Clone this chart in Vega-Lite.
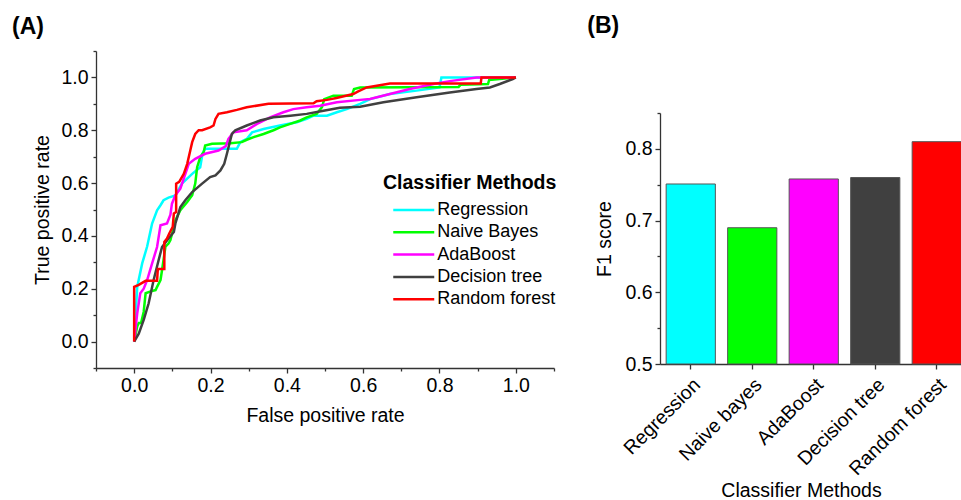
{
  "$schema": "https://vega.github.io/schema/vega-lite/v6.json",
  "padding": {"left": 12, "top": 15, "right": 0, "bottom": 0},
  "spacing": 30,
  "config": {
    "font": "Liberation Sans",
    "view": {"stroke": null},
    "axis": {"labelFontSize": 19.5, "titleFontSize": 19.5, "titleFontWeight": "normal", "labelColor": "#000", "titleColor": "#000", "domainColor": "#333", "tickColor": "#333", "domainWidth": 1.3, "tickWidth": 1.3, "grid": false, "labelPadding": 3},
    "title": {"fontSize": 23, "fontWeight": "bold", "color": "#000", "anchor": "start", "frame": "group"}
  },
  "resolve": {"scale": {"color": "independent"}, "legend": {"color": "independent"}},
  "hconcat": [
    {
      "width": 458,
      "height": 317,
      "title": {"text": "(A)", "dx": -84, "offset": 2},
      "data": {"values": [
        {"m": "Regression", "fpr": 0, "tpr": 0},
        {"m": "Regression", "fpr": 0.004, "tpr": 0.1},
        {"m": "Regression", "fpr": 0.008, "tpr": 0.207},
        {"m": "Regression", "fpr": 0.021, "tpr": 0.296},
        {"m": "Regression", "fpr": 0.034, "tpr": 0.36},
        {"m": "Regression", "fpr": 0.043, "tpr": 0.42},
        {"m": "Regression", "fpr": 0.047, "tpr": 0.447},
        {"m": "Regression", "fpr": 0.06, "tpr": 0.497},
        {"m": "Regression", "fpr": 0.069, "tpr": 0.516},
        {"m": "Regression", "fpr": 0.077, "tpr": 0.535},
        {"m": "Regression", "fpr": 0.09, "tpr": 0.545},
        {"m": "Regression", "fpr": 0.108, "tpr": 0.553},
        {"m": "Regression", "fpr": 0.125, "tpr": 0.598},
        {"m": "Regression", "fpr": 0.152, "tpr": 0.635},
        {"m": "Regression", "fpr": 0.173, "tpr": 0.66},
        {"m": "Regression", "fpr": 0.179, "tpr": 0.711},
        {"m": "Regression", "fpr": 0.186, "tpr": 0.73},
        {"m": "Regression", "fpr": 0.269, "tpr": 0.73},
        {"m": "Regression", "fpr": 0.278, "tpr": 0.755},
        {"m": "Regression", "fpr": 0.295, "tpr": 0.767},
        {"m": "Regression", "fpr": 0.309, "tpr": 0.792},
        {"m": "Regression", "fpr": 0.339, "tpr": 0.805},
        {"m": "Regression", "fpr": 0.382, "tpr": 0.818},
        {"m": "Regression", "fpr": 0.426, "tpr": 0.83},
        {"m": "Regression", "fpr": 0.452, "tpr": 0.843},
        {"m": "Regression", "fpr": 0.47, "tpr": 0.855},
        {"m": "Regression", "fpr": 0.505, "tpr": 0.855},
        {"m": "Regression", "fpr": 0.531, "tpr": 0.868},
        {"m": "Regression", "fpr": 0.557, "tpr": 0.88},
        {"m": "Regression", "fpr": 0.592, "tpr": 0.9},
        {"m": "Regression", "fpr": 0.618, "tpr": 0.918},
        {"m": "Regression", "fpr": 0.67, "tpr": 0.937},
        {"m": "Regression", "fpr": 0.74, "tpr": 0.95},
        {"m": "Regression", "fpr": 0.8, "tpr": 0.962},
        {"m": "Regression", "fpr": 0.805, "tpr": 1.0},
        {"m": "Regression", "fpr": 1.0, "tpr": 1.0},
        {"m": "Naive Bayes", "fpr": 0, "tpr": 0},
        {"m": "Naive Bayes", "fpr": 0.008, "tpr": 0.057},
        {"m": "Naive Bayes", "fpr": 0.012, "tpr": 0.07},
        {"m": "Naive Bayes", "fpr": 0.018, "tpr": 0.07},
        {"m": "Naive Bayes", "fpr": 0.025, "tpr": 0.113},
        {"m": "Naive Bayes", "fpr": 0.03, "tpr": 0.183},
        {"m": "Naive Bayes", "fpr": 0.043, "tpr": 0.19},
        {"m": "Naive Bayes", "fpr": 0.056, "tpr": 0.195},
        {"m": "Naive Bayes", "fpr": 0.06, "tpr": 0.207},
        {"m": "Naive Bayes", "fpr": 0.069, "tpr": 0.233},
        {"m": "Naive Bayes", "fpr": 0.073, "tpr": 0.27},
        {"m": "Naive Bayes", "fpr": 0.082, "tpr": 0.36},
        {"m": "Naive Bayes", "fpr": 0.09, "tpr": 0.371},
        {"m": "Naive Bayes", "fpr": 0.095, "tpr": 0.384},
        {"m": "Naive Bayes", "fpr": 0.108, "tpr": 0.459},
        {"m": "Naive Bayes", "fpr": 0.121, "tpr": 0.497},
        {"m": "Naive Bayes", "fpr": 0.139, "tpr": 0.528},
        {"m": "Naive Bayes", "fpr": 0.152, "tpr": 0.554},
        {"m": "Naive Bayes", "fpr": 0.16, "tpr": 0.598},
        {"m": "Naive Bayes", "fpr": 0.165, "tpr": 0.66},
        {"m": "Naive Bayes", "fpr": 0.173, "tpr": 0.698},
        {"m": "Naive Bayes", "fpr": 0.182, "tpr": 0.717},
        {"m": "Naive Bayes", "fpr": 0.186, "tpr": 0.742},
        {"m": "Naive Bayes", "fpr": 0.204, "tpr": 0.749},
        {"m": "Naive Bayes", "fpr": 0.252, "tpr": 0.751},
        {"m": "Naive Bayes", "fpr": 0.282, "tpr": 0.755},
        {"m": "Naive Bayes", "fpr": 0.295, "tpr": 0.764},
        {"m": "Naive Bayes", "fpr": 0.313, "tpr": 0.774},
        {"m": "Naive Bayes", "fpr": 0.339, "tpr": 0.786},
        {"m": "Naive Bayes", "fpr": 0.365, "tpr": 0.8},
        {"m": "Naive Bayes", "fpr": 0.382, "tpr": 0.811},
        {"m": "Naive Bayes", "fpr": 0.409, "tpr": 0.824},
        {"m": "Naive Bayes", "fpr": 0.435, "tpr": 0.837},
        {"m": "Naive Bayes", "fpr": 0.452, "tpr": 0.849},
        {"m": "Naive Bayes", "fpr": 0.478, "tpr": 0.862},
        {"m": "Naive Bayes", "fpr": 0.492, "tpr": 0.887},
        {"m": "Naive Bayes", "fpr": 0.498, "tpr": 0.918},
        {"m": "Naive Bayes", "fpr": 0.522, "tpr": 0.931},
        {"m": "Naive Bayes", "fpr": 0.57, "tpr": 0.931},
        {"m": "Naive Bayes", "fpr": 0.576, "tpr": 0.956},
        {"m": "Naive Bayes", "fpr": 0.592, "tpr": 0.962},
        {"m": "Naive Bayes", "fpr": 0.85, "tpr": 0.964},
        {"m": "Naive Bayes", "fpr": 0.855, "tpr": 0.972},
        {"m": "Naive Bayes", "fpr": 0.927, "tpr": 0.975},
        {"m": "Naive Bayes", "fpr": 0.93, "tpr": 0.99},
        {"m": "Naive Bayes", "fpr": 1.0, "tpr": 1.0},
        {"m": "AdaBoost", "fpr": 0, "tpr": 0},
        {"m": "AdaBoost", "fpr": 0.008, "tpr": 0.107},
        {"m": "AdaBoost", "fpr": 0.016, "tpr": 0.183},
        {"m": "AdaBoost", "fpr": 0.025, "tpr": 0.2},
        {"m": "AdaBoost", "fpr": 0.034, "tpr": 0.233},
        {"m": "AdaBoost", "fpr": 0.047, "tpr": 0.296},
        {"m": "AdaBoost", "fpr": 0.06, "tpr": 0.358},
        {"m": "AdaBoost", "fpr": 0.069, "tpr": 0.44},
        {"m": "AdaBoost", "fpr": 0.086, "tpr": 0.447},
        {"m": "AdaBoost", "fpr": 0.095, "tpr": 0.48},
        {"m": "AdaBoost", "fpr": 0.099, "tpr": 0.522},
        {"m": "AdaBoost", "fpr": 0.108, "tpr": 0.554},
        {"m": "AdaBoost", "fpr": 0.121, "tpr": 0.579},
        {"m": "AdaBoost", "fpr": 0.143, "tpr": 0.673},
        {"m": "AdaBoost", "fpr": 0.16, "tpr": 0.692},
        {"m": "AdaBoost", "fpr": 0.186, "tpr": 0.711},
        {"m": "AdaBoost", "fpr": 0.221, "tpr": 0.723},
        {"m": "AdaBoost", "fpr": 0.24, "tpr": 0.74},
        {"m": "AdaBoost", "fpr": 0.247, "tpr": 0.767},
        {"m": "AdaBoost", "fpr": 0.26, "tpr": 0.792},
        {"m": "AdaBoost", "fpr": 0.295, "tpr": 0.8},
        {"m": "AdaBoost", "fpr": 0.322, "tpr": 0.824},
        {"m": "AdaBoost", "fpr": 0.356, "tpr": 0.849},
        {"m": "AdaBoost", "fpr": 0.391, "tpr": 0.868},
        {"m": "AdaBoost", "fpr": 0.417, "tpr": 0.88},
        {"m": "AdaBoost", "fpr": 0.452, "tpr": 0.887},
        {"m": "AdaBoost", "fpr": 0.487, "tpr": 0.893},
        {"m": "AdaBoost", "fpr": 0.531, "tpr": 0.906},
        {"m": "AdaBoost", "fpr": 0.592, "tpr": 0.915},
        {"m": "AdaBoost", "fpr": 0.618, "tpr": 0.918},
        {"m": "AdaBoost", "fpr": 0.67, "tpr": 0.937},
        {"m": "AdaBoost", "fpr": 0.722, "tpr": 0.956},
        {"m": "AdaBoost", "fpr": 0.784, "tpr": 0.975},
        {"m": "AdaBoost", "fpr": 0.827, "tpr": 0.986},
        {"m": "AdaBoost", "fpr": 0.897, "tpr": 1.0},
        {"m": "AdaBoost", "fpr": 1.0, "tpr": 1.0},
        {"m": "Decision tree", "fpr": 0, "tpr": 0},
        {"m": "Decision tree", "fpr": 0.012, "tpr": 0.03},
        {"m": "Decision tree", "fpr": 0.025, "tpr": 0.082},
        {"m": "Decision tree", "fpr": 0.038, "tpr": 0.145},
        {"m": "Decision tree", "fpr": 0.051, "tpr": 0.233},
        {"m": "Decision tree", "fpr": 0.064, "tpr": 0.308},
        {"m": "Decision tree", "fpr": 0.073, "tpr": 0.358},
        {"m": "Decision tree", "fpr": 0.09, "tpr": 0.39},
        {"m": "Decision tree", "fpr": 0.104, "tpr": 0.415},
        {"m": "Decision tree", "fpr": 0.108, "tpr": 0.447},
        {"m": "Decision tree", "fpr": 0.121, "tpr": 0.509},
        {"m": "Decision tree", "fpr": 0.134, "tpr": 0.535},
        {"m": "Decision tree", "fpr": 0.152, "tpr": 0.566},
        {"m": "Decision tree", "fpr": 0.178, "tpr": 0.598},
        {"m": "Decision tree", "fpr": 0.199, "tpr": 0.623},
        {"m": "Decision tree", "fpr": 0.213, "tpr": 0.629},
        {"m": "Decision tree", "fpr": 0.226, "tpr": 0.648},
        {"m": "Decision tree", "fpr": 0.236, "tpr": 0.673},
        {"m": "Decision tree", "fpr": 0.243, "tpr": 0.711},
        {"m": "Decision tree", "fpr": 0.256, "tpr": 0.786},
        {"m": "Decision tree", "fpr": 0.265, "tpr": 0.8},
        {"m": "Decision tree", "fpr": 0.295, "tpr": 0.818},
        {"m": "Decision tree", "fpr": 0.33, "tpr": 0.837},
        {"m": "Decision tree", "fpr": 0.365, "tpr": 0.849},
        {"m": "Decision tree", "fpr": 0.409, "tpr": 0.855},
        {"m": "Decision tree", "fpr": 0.452, "tpr": 0.862},
        {"m": "Decision tree", "fpr": 0.496, "tpr": 0.874},
        {"m": "Decision tree", "fpr": 0.539, "tpr": 0.885},
        {"m": "Decision tree", "fpr": 0.592, "tpr": 0.889},
        {"m": "Decision tree", "fpr": 0.653, "tpr": 0.906},
        {"m": "Decision tree", "fpr": 0.74, "tpr": 0.925},
        {"m": "Decision tree", "fpr": 0.827, "tpr": 0.943},
        {"m": "Decision tree", "fpr": 0.897, "tpr": 0.956},
        {"m": "Decision tree", "fpr": 0.932, "tpr": 0.962},
        {"m": "Decision tree", "fpr": 0.958, "tpr": 0.975},
        {"m": "Decision tree", "fpr": 0.992, "tpr": 0.994},
        {"m": "Decision tree", "fpr": 1.0, "tpr": 1.0},
        {"m": "Random forest", "fpr": 0, "tpr": 0},
        {"m": "Random forest", "fpr": 0, "tpr": 0.207},
        {"m": "Random forest", "fpr": 0.012, "tpr": 0.215},
        {"m": "Random forest", "fpr": 0.03, "tpr": 0.23},
        {"m": "Random forest", "fpr": 0.06, "tpr": 0.23},
        {"m": "Random forest", "fpr": 0.062, "tpr": 0.275},
        {"m": "Random forest", "fpr": 0.079, "tpr": 0.275},
        {"m": "Random forest", "fpr": 0.079, "tpr": 0.377},
        {"m": "Random forest", "fpr": 0.086, "tpr": 0.39},
        {"m": "Random forest", "fpr": 0.092, "tpr": 0.409},
        {"m": "Random forest", "fpr": 0.101, "tpr": 0.434},
        {"m": "Random forest", "fpr": 0.104, "tpr": 0.485},
        {"m": "Random forest", "fpr": 0.11, "tpr": 0.49},
        {"m": "Random forest", "fpr": 0.11, "tpr": 0.598},
        {"m": "Random forest", "fpr": 0.118, "tpr": 0.605},
        {"m": "Random forest", "fpr": 0.13, "tpr": 0.635},
        {"m": "Random forest", "fpr": 0.139, "tpr": 0.673},
        {"m": "Random forest", "fpr": 0.147, "tpr": 0.723},
        {"m": "Random forest", "fpr": 0.152, "tpr": 0.755},
        {"m": "Random forest", "fpr": 0.16, "tpr": 0.786},
        {"m": "Random forest", "fpr": 0.169, "tpr": 0.8},
        {"m": "Random forest", "fpr": 0.178, "tpr": 0.8},
        {"m": "Random forest", "fpr": 0.199, "tpr": 0.811},
        {"m": "Random forest", "fpr": 0.208, "tpr": 0.818},
        {"m": "Random forest", "fpr": 0.213, "tpr": 0.843},
        {"m": "Random forest", "fpr": 0.221, "tpr": 0.862},
        {"m": "Random forest", "fpr": 0.243, "tpr": 0.868},
        {"m": "Random forest", "fpr": 0.269, "tpr": 0.877},
        {"m": "Random forest", "fpr": 0.295, "tpr": 0.887},
        {"m": "Random forest", "fpr": 0.352, "tpr": 0.9},
        {"m": "Random forest", "fpr": 0.47, "tpr": 0.902},
        {"m": "Random forest", "fpr": 0.478, "tpr": 0.91},
        {"m": "Random forest", "fpr": 0.505, "tpr": 0.915},
        {"m": "Random forest", "fpr": 0.53, "tpr": 0.922},
        {"m": "Random forest", "fpr": 0.574, "tpr": 0.937},
        {"m": "Random forest", "fpr": 0.587, "tpr": 0.947},
        {"m": "Random forest", "fpr": 0.609, "tpr": 0.962},
        {"m": "Random forest", "fpr": 0.67, "tpr": 0.977},
        {"m": "Random forest", "fpr": 0.908, "tpr": 0.977},
        {"m": "Random forest", "fpr": 0.91, "tpr": 1.0},
        {"m": "Random forest", "fpr": 1.0, "tpr": 1.0}
      ]},
      "mark": {"type": "line", "strokeWidth": 2.5, "strokeJoin": "miter"},
      "encoding": {
        "x": {"field": "fpr", "type": "quantitative",
          "scale": {"domain": [-0.1, 1.1], "nice": false, "zero": false},
          "axis": {"title": "False positive rate", "values": [-0.1, 0, 0.1, 0.2, 0.3, 0.4, 0.5, 0.6, 0.7, 0.8, 0.9, 1.0, 1.1],
            "labelExpr": "round(datum.value*10) % 2 == 0 ? format(datum.value, '.1f') : ''",
            "tickSize": {"condition": {"test": "round(datum.value*10) % 2 == 0", "value": 5}, "value": 3},
            "titlePadding": 12, "labelFlush": false, "labelOverlap": false}},
        "y": {"field": "tpr", "type": "quantitative",
          "scale": {"domain": [-0.1, 1.1], "nice": false, "zero": false},
          "axis": {"title": "True positive rate", "values": [-0.1, 0, 0.1, 0.2, 0.3, 0.4, 0.5, 0.6, 0.7, 0.8, 0.9, 1.0, 1.1],
            "labelExpr": "round(datum.value*10) % 2 == 0 ? format(datum.value, '.1f') : ''",
            "tickSize": {"condition": {"test": "round(datum.value*10) % 2 == 0", "value": 5}, "value": 3},
            "titlePadding": 8, "labelFlush": false, "labelOverlap": false}},
        "color": {"field": "m", "type": "nominal",
          "scale": {"domain": ["Regression", "Naive Bayes", "AdaBoost", "Decision tree", "Random forest"],
                    "range": ["#00FFFF", "#00FF00", "#FF00FF", "#404040", "#FF0000"]},
          "legend": {"title": "Classifier Methods", "orient": "none", "legendX": 287, "legendY": 123,
            "titleFontSize": 19.5, "titleFontWeight": "bold", "titleColor": "#000", "titlePadding": 5,
            "labelFontSize": 18, "labelColor": "#000", "symbolType": "M-2,0H2", "symbolStrokeWidth": 2.5,
            "symbolSize": 420, "symbolOffset": 19.25, "labelOffset": 12, "rowPadding": 1.3}},
        "order": {"value": null}
      }
    },
    {
      "width": 307.5,
      "height": 313,
      "title": {"text": "(B)", "dx": -72.7, "offset": 13},
      "data": {"values": [
        {"method": "Regression", "f1": 0.751},
        {"method": "Naive bayes", "f1": 0.69},
        {"method": "AdaBoost", "f1": 0.758},
        {"method": "Decision tree", "f1": 0.76},
        {"method": "Random forest", "f1": 0.81}
      ]},
      "mark": {"type": "bar", "stroke": "#555555", "strokeWidth": 1},
      "encoding": {
        "x": {"field": "method", "type": "nominal", "sort": null,
          "scale": {"paddingInner": 0.2, "paddingOuter": 0.1},
          "axis": {"title": "Classifier Methods", "labelAngle": -45, "tickSize": 5, "labelPadding": 6, "titlePadding": 3, "titleX": 141}},
        "y": {"field": "f1", "type": "quantitative",
          "scale": {"domain": [0.5, 0.85], "nice": false, "zero": false, "range": [313, 62]},
          "axis": {"title": "F1 score", "values": [0.5, 0.55, 0.6, 0.65, 0.7, 0.75, 0.8, 0.85],
            "labelExpr": "round(datum.value*20) % 2 == 0 ? format(datum.value, '.1f') : ''",
            "tickSize": {"condition": {"test": "round(datum.value*20) % 2 == 0", "value": 5}, "value": 3},
            "titlePadding": 10, "labelFlush": false, "labelOverlap": false}},
        "y2": {"datum": 0.5},
        "color": {"field": "method", "type": "nominal",
          "scale": {"domain": ["Regression", "Naive bayes", "AdaBoost", "Decision tree", "Random forest"],
                    "range": ["#00FFFF", "#00FF00", "#FF00FF", "#404040", "#FF0000"]},
          "legend": null}
      }
    }
  ]
}
